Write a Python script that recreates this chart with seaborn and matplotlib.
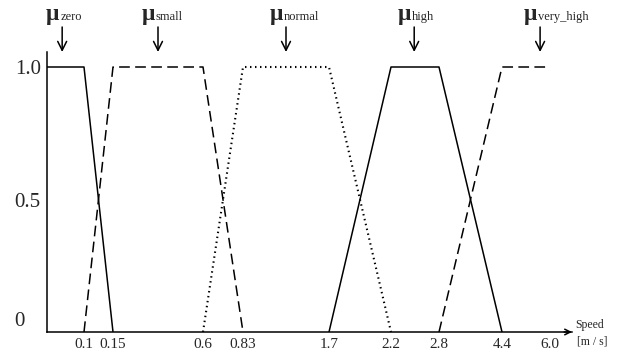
import numpy as np
import pandas as pd
import matplotlib
matplotlib.use('Agg')
import matplotlib.pyplot as plt
import seaborn as sns

# speed breakpoints shown on the axis (non-linear spacing in the original)
tick_vals = [0.1, 0.15, 0.6, 0.83, 1.7, 2.2, 2.8, 4.4, 6.0]
tick_labels = ['0.1', '0.15', '0.6', '0.83', '1.7', '2.2', '2.8', '4.4', '6.0']
# where each breakpoint sits along the drawn axis (pixels from origin)
axis_vals = [-1.0, 0.0] + tick_vals + [20.0]
axis_pos = [-370, 0, 37, 66, 156, 196, 282, 344, 392, 455, 503, 1063]

# membership functions
zero_x = [0.0, 0.1, 0.15]
zero_y = [1, 1, 0]
small_x = [0.1, 0.15, 0.6, 0.83]
small_y = [0, 1, 1, 0]
normal_x = [0.6, 0.83, 1.7, 2.2]
normal_y = [0, 1, 1, 0]
high_x = [1.7, 2.2, 2.8, 4.4]
high_y = [0, 1, 1, 0]
vhigh_x = [2.8, 4.4, 6.0]
vhigh_y = [0, 1, 1]

names = ['zero', 'small', 'normal', 'high', 'very_high']
label_x = [0.041, 0.375, 1.265, 2.49, 5.67]

sns.set_style('white')
plt.rcParams['font.family'] = ['Liberation Serif', 'DejaVu Serif']


def fwd(x):
    return np.interp(x, axis_vals, axis_pos)


def inv(p):
    return np.interp(p, axis_pos, axis_vals)


fig = plt.figure(figsize=(6.26, 3.52), dpi=100)
ax = fig.add_axes([47 / 626, 20 / 352, 525 / 626, 280 / 352])

dash = (0, (7, 3.5))
dot = (0, (0.7, 1.7))
sets = [(zero_x, zero_y, '-', 1.1), (small_x, small_y, dash, 1.1),
        (normal_x, normal_y, dot, 1.5), (high_x, high_y, '-', 1.1),
        (vhigh_x, vhigh_y, dash, 1.1)]
for xs, ys, ls, w in sets:
    df = pd.DataFrame({'speed': xs, 'mu': ys})
    sns.lineplot(data=df, x='speed', y='mu', sort=False, estimator=None,
                 color='black', lw=w, linestyle=ls, ax=ax)

ax.set_xscale('function', functions=(fwd, inv))
ax.set_xlim(0, inv(525))
ax.set_ylim(0, 280 / 265)
ax.set_xticks(tick_vals)
ax.set_xticklabels(tick_labels, fontsize=11)
ax.xaxis.set_minor_locator(matplotlib.ticker.NullLocator())
ax.set_yticks([0.5, 1.0])
ax.set_yticklabels(['0.5', '1.0'], fontsize=15)
ax.tick_params(axis='x', direction='in', length=3, width=1, pad=4, color='black')
ax.tick_params(axis='y', direction='out', length=4, width=1, pad=0.5, color='black')
ax.set_xlabel('')
ax.set_ylabel('')
for s in ['top', 'right']:
    ax.spines[s].set_visible(False)
for s in ['left', 'bottom']:
    ax.spines[s].set_color('black')
    ax.spines[s].set_linewidth(1.1)

# arrow head at the end of the speed axis
ax.annotate('', xy=(1.0, 0), xytext=(0.985, 0), xycoords='axes fraction',
            arrowprops=dict(arrowstyle='->', lw=1.1, color='black',
                            shrinkA=0, shrinkB=0, mutation_scale=10))

fig.text(25 / 626, 1 - 321 / 352, '0', fontsize=15, ha='right', va='center')
fig.text(575 / 626, 1 - 325 / 352, 'Speed', fontsize=8.5, ha='left', va='center')
fig.text(577 / 626, 1 - 342 / 352, '[m / s]', fontsize=8.5, ha='left', va='center')

# mu labels with arrows
y_text = 312 / 265
for name, lx in zip(names, label_x):
    ax.annotate('', xy=(lx, 280 / 265), xytext=(lx, 305 / 265),
                arrowprops=dict(arrowstyle='->', lw=1.1, color='black',
                                shrinkA=0, shrinkB=0, mutation_scale=16),
                annotation_clip=False)
    ax.annotate('\u03bc', xy=(lx, y_text), xytext=(-3, 0), textcoords='offset pixels',
                ha='right', va='baseline', fontsize=17, fontweight='bold',
                annotation_clip=False)
    ax.annotate(name, xy=(lx, y_text), xytext=(-2, 0), textcoords='offset pixels',
                ha='left', va='baseline', fontsize=9, annotation_clip=False)

fig.savefig('out.png', dpi=100)
